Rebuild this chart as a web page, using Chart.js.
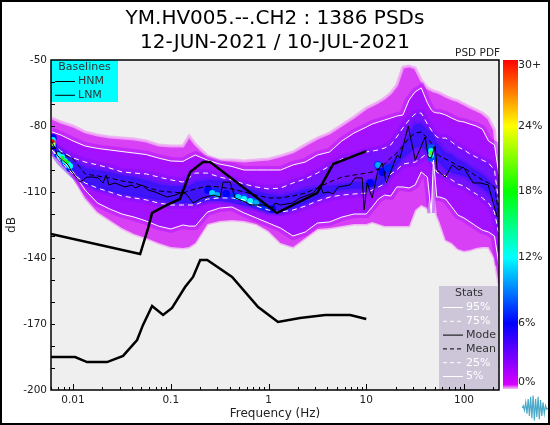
<!DOCTYPE html>
<html>
<head>
<meta charset="utf-8">
<title>PSD PDF</title>
<script src="https://cdn.jsdelivr.net/npm/chart.js@4"></script>
<style>
  html, body { margin: 0; padding: 0; background: #fff; }
  #wrap { position: relative; width: 550px; height: 425px; overflow: hidden; }
  #wrap canvas { position: absolute; }
  #frame { position: absolute; left: 0; top: 0; width: 546px; height: 421px; border: 2px solid #000; }
</style>
</head>
<body>
<div id="wrap">
  <canvas id="pdfChart" width="550" height="425" style="left:0;top:0"></canvas>
  <canvas id="barChart" width="50" height="425" style="left:500px;top:0"></canvas>
  <canvas id="logoChart" width="26" height="26" style="left:522px;top:395px"></canvas>
  <div id="frame"></div>
</div>
<script>
const titleLines = ['YM.HV005.--.CH2 : 1386 PSDs', '12-JUN-2021 / 10-JUL-2021'];
const dbTicks = [-50, -80, -110, -140, -170, -200];
const freqTicks = [0.01, 0.1, 1, 10, 100];
const pctTicks = [0.6, 6, 12, 18, 24, 29.5];

// shared frequency list for the percentile curves and the cloud
const freq = [0.0061, 0.0075, 0.01, 0.0133, 0.0178, 0.0237, 0.0316, 0.0422, 0.0562, 0.075, 0.1, 0.133, 0.154, 0.178, 0.237, 0.316, 0.422, 0.562, 0.75, 1, 1.33, 1.78, 2.37, 3.16, 4.22, 5.62, 7.5, 10, 11.5, 13.3, 15.4, 17.8, 20.5, 23.7, 27.4, 31.6, 36.5, 42.2, 46.2, 48.7, 52.6, 56.2, 64.9, 75, 86.6, 100, 115, 133, 154, 178, 205, 228];

const p95 = [-82.7, -84.1, -86.8, -89.1, -90.2, -90.9, -91.6, -92.3, -93, -94.6, -95.9, -96.1, -94.6, -93.2, -95.5, -97.3, -98.4, -100, -100, -100, -100, -97.7, -96.4, -93.2, -91.8, -86.8, -83.2, -80.5, -79.1, -78.2, -77.3, -76.4, -75.5, -75, -68.2, -64.5, -62.7, -69.5, -72.7, -73.6, -74.1, -74.1, -75, -76.4, -77.7, -78.2, -79.1, -80, -81.4, -86.8, -88.6, -102.3];
const p75 = [-87.7, -91.4, -94.5, -96.4, -97.7, -99.1, -100.9, -101.4, -101.8, -103.2, -104.5, -105.5, -103.6, -101.4, -101.4, -103.2, -104.5, -106.4, -107.7, -108.6, -108.2, -105.9, -104.1, -101.4, -98.2, -95, -93.6, -91.8, -91.4, -90.9, -90, -88.6, -85, -80.9, -77.3, -74.5, -74.1, -79.1, -81.8, -83.2, -85, -85.5, -85.5, -87.3, -89.5, -90.9, -92.7, -94.1, -95.5, -96.8, -100, -115.9];
const mean = [-89.1, -92.3, -95, -101.8, -102.7, -103.6, -105, -105.9, -107.7, -109.5, -110, -110.5, -109.5, -108.6, -107.3, -107.7, -108.6, -110, -111.4, -112.7, -112.7, -111.8, -110.5, -108.2, -105.5, -103.2, -102.3, -101.4, -100.9, -99.5, -97.3, -94.5, -92.3, -89.1, -85.5, -83.2, -82.7, -85.5, -87.7, -90, -92.7, -93.6, -95, -96.4, -98.2, -99.1, -100.9, -102.7, -104.5, -105.9, -107.7, -120.5];
const p25 = [-90.9, -96.4, -101.8, -105.9, -108.2, -110, -111.8, -112.7, -113.6, -115, -115.9, -115.9, -115.9, -115.9, -113.2, -112.7, -112.7, -113.6, -116.4, -118.2, -119.1, -118.2, -116.4, -114.1, -112.3, -111.4, -110.9, -110.5, -109.1, -107.7, -106.4, -101.8, -100, -97.3, -96.8, -96.4, -94.5, -92.3, -95.5, -97.7, -100.9, -101.8, -102.7, -104.5, -106.4, -107.3, -109.1, -110.9, -112.7, -115, -119.1, -129.5];
const p5 = [-90.9, -94.5, -100.9, -109.1, -115, -117.7, -120, -121.4, -123.2, -125.5, -126.8, -125, -125.5, -125.5, -119.1, -117.3, -116.8, -119.5, -121.8, -124.1, -126.4, -130, -128.2, -124.1, -123.6, -121.4, -120, -120, -116.8, -113.2, -111.4, -111.8, -107.7, -107.7, -108.2, -106.8, -100.9, -103.2, -119.5, -95.5, -112.3, -112.3, -113.2, -116.8, -120.5, -121.8, -123.6, -125.5, -127.3, -128.2, -130, -143.2];

// edges of the cloud and of its dense core
const cloudTop = [-76.4, -78.2, -80, -82.7, -84.1, -85, -85.5, -85.9, -86.8, -88.6, -89.1, -89.1, -84.5, -88.2, -93.6, -95.5, -95.5, -95.9, -95.5, -95, -93.6, -91.8, -88.6, -85.5, -83.2, -79.5, -75.9, -71.8, -70.5, -69.1, -67.3, -65, -61.4, -53.2, -52.7, -53.6, -59.1, -62.7, -63.6, -64.1, -64.5, -65, -66.4, -67.7, -68.6, -70, -71.4, -72.7, -74.1, -76.4, -81.8, -104.5];
const cloudBottom = [-91.8, -95.5, -102.7, -112.7, -119.1, -122.7, -126.4, -129.1, -130.9, -133.2, -135, -135.5, -135, -133.2, -124.5, -123.2, -122.7, -123.2, -124.5, -127.7, -133.2, -135, -130.9, -126.8, -126.4, -125.5, -124.5, -124.5, -123.6, -124.5, -125.5, -125.5, -125.5, -125.5, -125.5, -118.2, -115.9, -117.3, -109.1, -102.3, -120.5, -123.6, -131.8, -133.2, -135.9, -136.8, -136.4, -135.5, -135, -135, -140, -152.3];
const coreTop = [-89.1, -90.9, -95.5, -99.1, -100, -100.9, -102.3, -103.2, -104.5, -106.4, -107.3, -107.3, -107.3, -105.5, -104.5, -104.5, -105.9, -107.7, -109.5, -110.9, -111.8, -110.5, -108.6, -107.8, -107, -106.5, -105.5, -105.5, -105, -102.7, -100, -96.4, -93.6, -89.1, -83.6, -79.1, -79.1, -81.8, -83.2, -84.1, -87.7, -88.6, -92, -93, -95.2, -96.5, -98.4, -100.2, -102, -104.3, -107.5, -118.2];
const coreBottom = [-90, -93.2, -100, -105.9, -108.6, -109.5, -110.9, -111.8, -112.7, -113.6, -114.5, -115, -115, -115, -114.1, -114.1, -115, -116.4, -117.7, -119.5, -119.5, -117.7, -115.5, -113.2, -110.4, -109, -108.5, -108.5, -108, -107.2, -105.4, -101.7, -98.1, -94.5, -92.5, -89.9, -89, -92.2, -93.5, -94.5, -95.5, -96.7, -99.9, -101.3, -102.2, -102.6, -104.5, -106.3, -108.1, -110.4, -114.9, -125];

const modeFreq = [0.0061, 0.00654, 0.00685, 0.00889, 0.00977, 0.0118, 0.0139, 0.016, 0.018, 0.0203, 0.0218, 0.0233, 0.0269, 0.034, 0.0402, 0.0431, 0.0508, 0.0586, 0.0691, 0.0916, 0.111, 0.131, 0.147, 0.169, 0.209, 0.271, 0.32, 0.343, 0.405, 0.455, 0.575, 0.648, 0.881, 1.09, 1.17, 1.32, 1.75, 2.1, 2.86, 3.37, 3.62, 4.07, 4.58, 5.16, 6.83, 7.69, 9.08, 9.51, 10.2, 11.5, 13.2, 14.6, 16, 20.7, 22.2, 26.9, 31.7, 40.1, 43, 46.1, 50.7, 53.2, 64.2, 75.8, 89.3, 98.2, 124, 146, 177, 219];
const modeDb = [-87.3, -90, -93.2, -97.7, -100.9, -105.5, -103.2, -103.2, -103.6, -105.9, -102.3, -106.8, -105.9, -107.7, -106.8, -108.2, -106.8, -109.1, -110, -112.3, -111.4, -110, -111.4, -115, -112.7, -111.4, -112.3, -105.5, -105.5, -112.7, -114.5, -115.9, -115.9, -117.3, -115, -115.9, -115, -112.7, -110.5, -106.8, -110.5, -110, -110.9, -107.7, -106.8, -103.6, -103.6, -118.2, -105.9, -112.7, -100, -96.8, -105.9, -93.2, -94.5, -80, -95.5, -85, -94.1, -94.5, -89.1, -100, -103.2, -97.7, -100, -98.6, -105.9, -105.9, -106.8, -121.4];

const hnmFreq = [0.00595, 0.0486, 0.0586, 0.0644, 0.0916, 0.124, 0.158, 0.214, 0.252, 1.22, 3.14, 4.58, 10];
const hnmDb = [-129.1, -138.2, -126.4, -119.5, -115.9, -113.2, -100.9, -96.4, -96.4, -119.5, -110.5, -97.3, -91.4];
const lnmFreq = [0.00595, 0.0105, 0.0139, 0.0223, 0.0325, 0.0452, 0.052, 0.0644, 0.0834, 0.103, 0.14, 0.169, 0.2, 0.236, 0.424, 0.783, 1.25, 2.1, 3.8, 6.84, 10];
const lnmDb = [-185, -185, -187.3, -187.3, -184.5, -177.3, -170.4, -161.8, -165.9, -162.7, -153.2, -148.6, -140.9, -140.9, -148.6, -162.3, -169.1, -167.3, -165.9, -165.9, -167.7];

// hot cells of the PDF, low percentages first so the peaks stay on top
const hotFreq = [0.0062, 0.0062, 0.00702, 0.00772, 0.00848, 0.00932, 0.241, 0.291, 0.368, 0.445, 0.562, 0.713, 0.881, 1.09, 11, 13.2, 14.6, 16.7, 46.1, 46.1, 0.265, 0.298, 0.489, 0.562, 0.648, 0.749, 0.0062, 0.0062, 0.0072, 0.00772, 0.00828, 0.00889, 0.00932, 13.2, 46.1, 46.1, 0.00772, 0.00828, 0.00868, 0.0062, 0.0062, 46.1];
const hotDb = [-85.5, -89.1, -92.7, -94.5, -96.8, -99.1, -109.1, -110, -110.9, -111.8, -112.7, -114.5, -116.4, -117.7, -105.9, -97.7, -100.9, -99.1, -90, -94.5, -110.5, -111.4, -112.3, -113.2, -114.1, -115, -86.4, -88.2, -93.2, -94.1, -95.9, -97.3, -98.2, -97.7, -91.4, -93.2, -94.5, -95.9, -96.4, -87.9, -86.9, -92.3];
const hotPct = [6, 6, 7, 7, 7, 7, 6, 7, 6, 7, 8, 8, 7, 6, 6, 7, 6, 7, 8, 8, 11, 10, 11, 12, 12, 10, 12, 12, 12, 12, 13, 12, 12, 10, 13, 13, 18, 19, 18, 24, 30, 20];

const colourStops = [[0, '#f4c6f4'], [0.4, '#d800ff'], [6, '#0000ff'], [12, '#00ffff'], [18, '#00ff00'], [24, '#ffff00'], [30, '#ff0000']];
const logoValues = [0, 2, -2, 5, -5, 8, -7, 10, -9, 11, -11, 8, -8, 10, -10, 7, -7, 5, -5, 2, -1, 0];

Chart.defaults.font.family = '"DejaVu Sans"';
Chart.defaults.font.size = 10.5;
Chart.defaults.color = '#222';
Chart.defaults.animation = false;

const zip = (xs, ys) => xs.map((x, i) => ({ x, y: ys[i] }));

function hex(c) {
  return [1, 3, 5].map(i => parseInt(c.slice(i, i + 2), 16));
}

function pctColour(v) {
  for (let i = 1; i < colourStops.length; i++) {
    const [p0, c0] = colourStops[i - 1];
    const [p1, c1] = colourStops[i];
    if (v <= p1) {
      const t = (v - p0) / (p1 - p0);
      const a = hex(c0), b = hex(c1);
      return `rgb(${a.map((n, k) => Math.round(n + (b[k] - n) * t)).join(',')})`;
    }
  }
  return colourStops[colourStops.length - 1][1];
}

const curve = (label, xs, ys, color, width, dash) => ({
  label, data: zip(xs, ys), borderColor: color, borderWidth: width,
  borderDash: dash || [], pointRadius: 0, tension: 0, fill: false
});
// a pair of datasets, the first one filled down to the next; the wide
// translucent edge stands in for the soft fall-off of the PDF
const band = (label, top, bottom, color, edge, edgeWidth) => [
  { label, data: zip(freq, top), backgroundColor: color, borderColor: edge, borderWidth: edgeWidth, pointRadius: 0, tension: 0, fill: '+1' },
  { label: label + ' low', data: zip(freq, bottom), borderColor: edge, borderWidth: edgeWidth, pointRadius: 0, tension: 0, fill: false }
];

const datasets = [
  curve('HNM', hnmFreq, hnmDb, '#000', 2.5),
  curve('LNM', lnmFreq, lnmDb, '#000', 2.5),
  curve('Mode', modeFreq, modeDb, '#000', 1),
  curve('Mean', freq, mean, '#000', 1, [5, 3]),
  curve('95%', freq, p95, '#fff', 1),
  curve('75%', freq, p75, '#fff', 1, [5, 4]),
  curve('25%', freq, p25, '#fff', 1, [5, 4]),
  curve('5%', freq, p5, '#fff', 1),
  {
    label: 'PDF peaks', data: zip(hotFreq, hotDb), showLine: false, pointStyle: 'circle',
    pointRadius: hotPct.map(v => (v < 10 ? 4 : v < 15 ? 3 : 2)),
    pointBorderWidth: 0,
    pointBackgroundColor: hotPct.map(pctColour)
  },
  ...band('core', coreTop, coreBottom, 'rgba(40,20,250,0.7)', 'rgba(60,20,250,0.3)', 5),
  ...band('inter quartile', p75, p25, '#7512ff', 'rgba(125,16,255,0.45)', 8),
  ...band('5-95', p95, p5, '#a312ff', 'rgba(170,16,255,0.45)', 8),
  ...band('cloud', cloudTop, cloudBottom, '#d840f6', 'rgba(240,170,245,0.85)', 3)
];

function drawLegendBox(c, x, y, w, h, bg, title, rows) {
  c.fillStyle = bg;
  c.fillRect(x, y, w, h);
  c.font = '11px "DejaVu Sans"';
  c.textBaseline = 'middle';
  c.textAlign = 'center';
  c.fillStyle = '#333';
  c.fillText(title, x + w / 2, y + 7.5);
  c.textAlign = 'left';
  rows.forEach((r, i) => {
    const ry = y + 21.5 + i * 13.8;
    c.strokeStyle = r.color;
    c.lineWidth = 1;
    c.setLineDash(r.dash || []);
    c.beginPath();
    c.moveTo(x + 4, ry);
    c.lineTo(x + 24, ry);
    c.stroke();
    c.setLineDash([]);
    c.fillStyle = r.color === '#000' ? '#333' : r.color;
    c.fillText(r.label, x + 27, ry);
  });
}

const framePlugin = {
  id: 'frame',
  beforeDatasetsDraw(chart) {
    const { ctx: c, chartArea: a } = chart;
    c.save();
    c.fillStyle = '#efefef';
    c.fillRect(a.left, a.top, a.right - a.left, a.bottom - a.top);
    c.restore();
  },
  afterDatasetsDraw(chart) {
    const { ctx: c, chartArea: a, scales } = chart;
    c.save();
    drawLegendBox(c, a.left, a.top, 67, 42, '#00ffff', 'Baselines', [
      { label: 'HNM', color: '#000' }, { label: 'LNM', color: '#000' }
    ]);
    drawLegendBox(c, a.right - 60, a.bottom - 104, 60, 104, '#ccc6d8', 'Stats', [
      { label: '95%', color: '#fff' }, { label: '75%', color: '#fff', dash: [4, 3] },
      { label: 'Mode', color: '#000' }, { label: 'Mean', color: '#000', dash: [4, 3] },
      { label: '25%', color: '#fff', dash: [4, 3] }, { label: '5%', color: '#fff' }
    ]);
    // inward tick marks
    c.strokeStyle = '#000';
    c.lineWidth = 1;
    c.beginPath();
    for (let db = -190; db < -50; db += 10) {
      const y = Math.round(scales.y.getPixelForValue(db)) + 0.5;
      c.moveTo(a.left, y);
      c.lineTo(a.left + 4, y);
    }
    for (let d = 0.001; d < 1000; d *= 10) {
      for (let m = 1; m < 10; m++) {
        const v = d * m;
        if (v < scales.x.min || v > scales.x.max) continue;
        const x = Math.round(scales.x.getPixelForValue(v)) + 0.5;
        c.moveTo(x, a.bottom);
        c.lineTo(x, a.bottom - (m === 1 ? 6 : 3));
      }
    }
    c.stroke();
    c.lineWidth = 1.5;
    c.strokeRect(a.left, a.top, a.right - a.left, a.bottom - a.top);
    c.font = '10.5px "DejaVu Sans"';
    c.fillStyle = '#222';
    c.textAlign = 'right';
    c.textBaseline = 'middle';
    c.fillText('PSD PDF', a.right + 1, a.top - 7);
    c.restore();
  }
};

new Chart(document.getElementById('pdfChart'), {
  type: 'line',
  data: { datasets },
  plugins: [framePlugin],
  options: {
    responsive: false,
    layout: { padding: { left: 0, right: 0, top: 1, bottom: 0 } },
    plugins: {
      legend: { display: false },
      tooltip: { enabled: false },
      title: {
        display: true,
        text: titleLines,
        color: '#000',
        font: { size: 20, weight: 'normal', lineHeight: 1.2 },
        padding: { top: 6, bottom: 5 }
      }
    },
    scales: {
      x: {
        type: 'logarithmic',
        min: 0.00595,
        max: 228,
        grid: { display: false, drawTicks: false },
        border: { display: false },
        afterBuildTicks: s => { s.ticks = freqTicks.map(value => ({ value })); },
        afterFit: s => { s.height = 35; },
        ticks: { autoSkip: false, maxRotation: 0, padding: 4, callback: v => String(v) },
        title: { display: true, text: 'Frequency (Hz)', font: { size: 12 }, padding: { top: 1, bottom: 4 } }
      },
      y: {
        min: -200,
        max: -50,
        grid: { display: false, drawTicks: false },
        border: { display: false },
        afterBuildTicks: s => { s.ticks = dbTicks.map(value => ({ value })); },
        afterFit: s => { s.width = 51; },
        ticks: { autoSkip: false, padding: 4 },
        title: { display: true, text: 'dB', font: { size: 12 }, padding: { top: 5, bottom: 0 } }
      },
      // empty right axis, keeps the colour bar's strip free and the title centred
      yRight: {
        position: 'right',
        grid: { display: false, drawTicks: false },
        border: { display: false },
        ticks: { display: false },
        afterFit: s => { s.width = 51; }
      }
    }
  }
});

new Chart(document.getElementById('barChart'), {
  type: 'bar',
  data: {
    labels: ['PDF'],
    datasets: [{
      data: [30],
      barPercentage: 1,
      categoryPercentage: 1,
      backgroundColor: ctx => {
        const { ctx: c, chartArea: a } = ctx.chart;
        if (!a) return '#fff';
        const g = c.createLinearGradient(0, a.bottom, 0, a.top);
        colourStops.forEach(([p, col]) => g.addColorStop(p / 30, col));
        return g;
      }
    }]
  },
  options: {
    responsive: false,
    layout: { padding: { left: 3, right: 0, top: 60, bottom: 36 } },
    plugins: { legend: { display: false }, tooltip: { enabled: false } },
    scales: {
      x: { display: false },
      y: {
        position: 'right',
        min: 0,
        max: 30,
        grid: { display: false, drawTicks: false },
        border: { display: false },
        afterBuildTicks: s => { s.ticks = pctTicks.map(value => ({ value })); },
        afterFit: s => { s.width = 32; },
        ticks: {
          autoSkip: false,
          padding: 0,
          font: { size: 11 },
          callback: v => (v > 29 ? '30+' : Math.round(v / 6) * 6 + '%')
        }
      }
    }
  }
});

new Chart(document.getElementById('logoChart'), {
  type: 'line',
  data: {
    labels: logoValues.map((v, i) => i),
    datasets: [{ data: logoValues, borderColor: '#4aa9c9', borderWidth: 1.2, pointRadius: 0, tension: 0 }]
  },
  options: {
    responsive: false,
    plugins: { legend: { display: false }, tooltip: { enabled: false } },
    scales: { x: { display: false }, y: { display: false, min: -11.5, max: 11.5 } }
  }
});
</script>
</body>
</html>
